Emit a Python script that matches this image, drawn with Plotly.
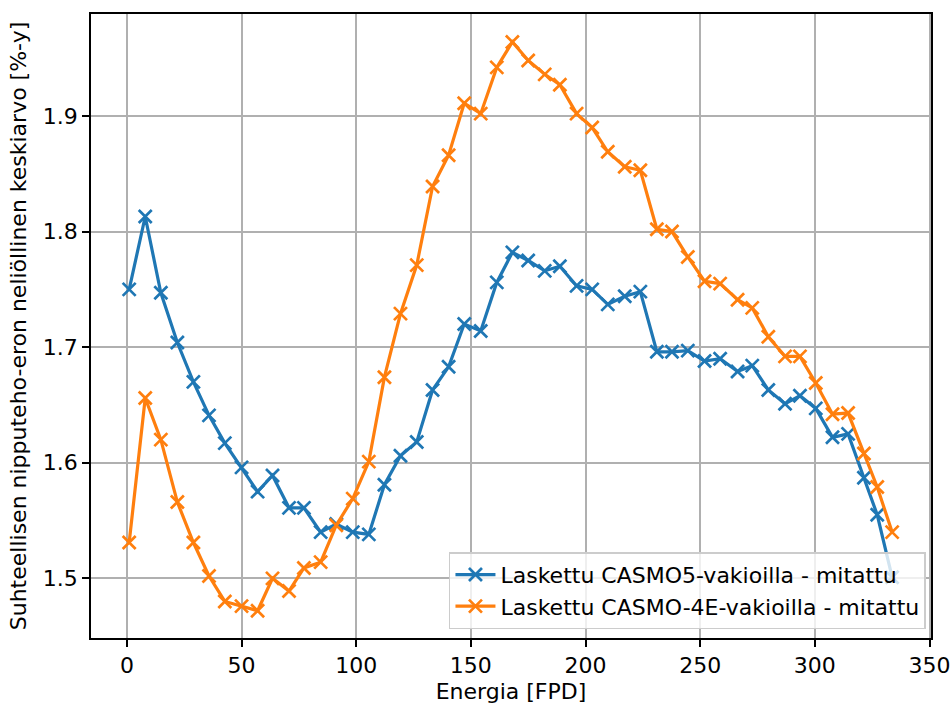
import plotly.graph_objects as go

energy = [1.0, 8.0, 14.8, 22.0, 29.0, 35.8, 42.7, 50.0, 57.0, 63.5, 70.7, 77.2, 84.5, 91.3,
          98.5, 105.5, 112.3, 119.3, 126.4, 133.3, 140.3, 147.1, 154.3, 161.3, 168.1, 175.0,
          182.2, 188.8, 196.1, 202.9, 209.7, 217.1, 223.9, 231.1, 237.7, 244.6, 251.9, 258.7,
          266.3, 272.7, 279.7, 287.0, 293.5, 300.4, 307.7, 314.5, 321.4, 327.2, 333.7]

casmo5 = [1.750, 1.813, 1.747, 1.704, 1.670, 1.641, 1.617, 1.596, 1.575, 1.589, 1.561, 1.561,
          1.540, 1.547, 1.540, 1.538, 1.581, 1.606, 1.618, 1.663, 1.683, 1.720, 1.714, 1.756,
          1.782, 1.775, 1.766, 1.770, 1.753, 1.750, 1.737, 1.744, 1.748, 1.696, 1.696, 1.697,
          1.688, 1.690, 1.679, 1.684, 1.663, 1.651, 1.658, 1.647, 1.622, 1.625, 1.587, 1.555,
          1.501]

casmo4e = [1.531, 1.656, 1.620, 1.566, 1.531, 1.502, 1.480, 1.476, 1.472, 1.500, 1.489, 1.509,
           1.514, 1.546, 1.569, 1.601, 1.674, 1.729, 1.771, 1.839, 1.866, 1.911, 1.902, 1.942,
           1.964, 1.948, 1.936, 1.927, 1.902, 1.890, 1.869, 1.856, 1.853, 1.802, 1.800, 1.778,
           1.757, 1.755, 1.741, 1.734, 1.709, 1.692, 1.692, 1.669, 1.642, 1.643, 1.608, 1.579,
           1.540]

names = ["Laskettu CASMO5-vakioilla - mitattu", "Laskettu CASMO-4E-vakioilla - mitattu"]
colors = ["#1f77b4", "#ff7f0e"]

x_ticks = [0, 50, 100, 150, 200, 250, 300, 350]
y_ticks = [1.5, 1.6, 1.7, 1.8, 1.9]
y_ticklabels = ["1.5", "1.6", "1.7", "1.8", "1.9"]

FONT = "DejaVu Sans"
FS = 22

fig = go.Figure()
for ys, name, col in zip([casmo5, casmo4e], names, colors):
    fig.add_trace(go.Scatter(
        x=energy, y=ys, name=name, mode="lines+markers",
        line=dict(color=col, width=3.2),
        marker=dict(symbol="x-thin", size=13, color=col,
                    line=dict(color=col, width=2.7)),
    ))

axis_common = dict(
    showgrid=True, gridcolor="#b0b0b0", gridwidth=1.7,
    showline=True, linecolor="black", linewidth=1.7, mirror=True,
    ticks="outside", ticklen=7, tickwidth=1.7, tickcolor="black",
    zeroline=False, automargin=False, ticklabeloverflow="allow",
    tickfont=dict(family=FONT, size=FS, color="black"),
)

fig.update_xaxes(
    range=[-15.65, 350.65], tickmode="array", tickvals=x_ticks,
    title=dict(text="Energia [FPD]", font=dict(family=FONT, size=FS, color="black"), standoff=6),
    **axis_common,
)
fig.update_yaxes(
    range=[1.4484, 1.9882], tickmode="array", tickvals=y_ticks, ticktext=y_ticklabels,
    title=dict(text="Suhteellisen nipputeho-eron neliöllinen keskiarvo [%-y]",
               font=dict(family=FONT, size=FS, color="black"), standoff=10),
    **axis_common,
)

fig.update_layout(
    width=950, height=704,
    margin=dict(l=91, r=19, t=14, b=66),
    paper_bgcolor="white", plot_bgcolor="white",
    font=dict(family=FONT, size=FS, color="black"),
    legend=dict(
        x=0.994, y=0.014, xanchor="right", yanchor="bottom",
        bgcolor="rgba(255,255,255,0.8)", bordercolor="#cccccc", borderwidth=1.5,
        font=dict(family=FONT, size=FS, color="black"),
        itemwidth=40, tracegroupgap=0,
    ),
    showlegend=True,
)

fig.write_html("out.html")
